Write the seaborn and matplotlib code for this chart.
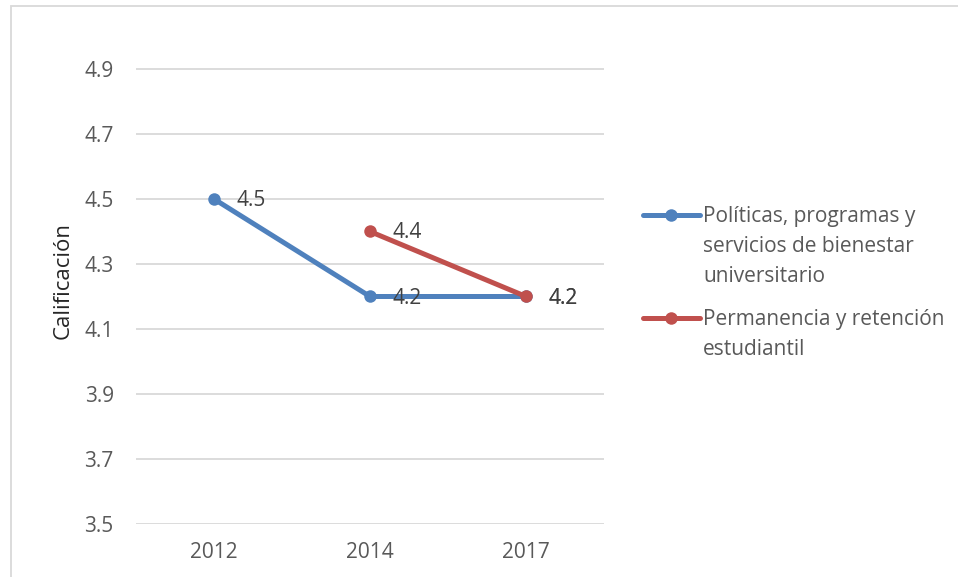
import matplotlib
matplotlib.use("Agg")
import matplotlib.pyplot as plt
import seaborn as sns
import pandas as pd
import numpy as np
from matplotlib.lines import Line2D
from matplotlib.patches import Rectangle

years = ["2012", "2014", "2017"]
serie_bienestar = [4.5, 4.2, 4.2]
serie_permanencia = [np.nan, 4.4, 4.2]
nombres = ["Políticas, programas y servicios de bienestar universitario",
           "Permanencia y retención estudiantil"]
legend_lines = [["Políticas, programas y", "servicios de bienestar", "universitario"],
                ["Permanencia y retención", "estudiantil"]]
yticks = [3.5, 3.7, 3.9, 4.1, 4.3, 4.5, 4.7, 4.9]
colores = ["#4F81BD", "#C0504D"]

sns.set_theme(style="white")
plt.rcParams['font.family'] = ['Open Sans', 'DejaVu Sans']

df = pd.DataFrame({
    "year": years * 2,
    "valor": serie_bienestar + serie_permanencia,
    "serie": [nombres[0]] * 3 + [nombres[1]] * 3,
})

W, H = 958, 577
FS = 15
fig = plt.figure(figsize=(W / 100, H / 100), dpi=100)
ax = fig.add_axes([136 / W, 1 - 524 / H, (604 - 136) / W, (524 - 36.5) / H])

sns.lineplot(data=df, x="year", y="valor", hue="serie", palette=colores,
             marker="o", markersize=9, markeredgewidth=0, linewidth=3.6,
             ax=ax, legend=False, sort=False)

ax.set_xlim(-0.5, 2.5)
ax.set_ylim(3.5, 5.0)
ax.set_yticks(yticks)
ax.set_yticklabels([f"{v:.1f}" for v in yticks])
ax.yaxis.grid(True, color="#d9d9d9", linewidth=1.3)
ax.xaxis.grid(False)
ax.set_axisbelow(True)
for s in ax.spines.values():
    s.set_visible(False)
ax.tick_params(axis="y", length=0, pad=16, labelsize=FS, labelcolor="#595959")
ax.tick_params(axis="x", length=0, pad=13, labelsize=FS, labelcolor="#595959")
ax.set_xlabel("")
ax.set_ylabel("Calificación", fontsize=16, color="#262626", labelpad=8)

# data labels
for vals in (serie_bienestar, serie_permanencia):
    for i, v in enumerate(vals):
        if not np.isnan(v):
            dy = -1.5 if v == 4.2 else -1
            ax.annotate(f"{v:.1f}", (i, v), xytext=(16, dy), textcoords="offset points",
                        ha="left", va="center", fontsize=FS, color="#404040")

# legend drawn manually
entry_y = [215, 318]
for color, lines, y0 in zip(colores, legend_lines, entry_y):
    fy = 1 - y0 / H
    fig.add_artist(Line2D([643 / W, 700 / W], [fy, fy], color=color, linewidth=3.6,
                          transform=fig.transFigure))
    fig.add_artist(Line2D([671 / W], [fy], color=color, marker="o", markersize=9,
                          markeredgewidth=0, transform=fig.transFigure))
    for k, t in enumerate(lines):
        fig.text(703 / W, 1 - (y0 + 30 * k + 7) / H, t, ha="left", va="baseline",
                 fontsize=FS, color="#595959")

# chart border
fig.add_artist(Rectangle((10.5 / W, -0.1), 2, 1.1 - 6.5 / H, fill=False,
                         edgecolor="#d9d9d9", linewidth=1.3, transform=fig.transFigure))

fig.savefig("out.png", dpi=100)
